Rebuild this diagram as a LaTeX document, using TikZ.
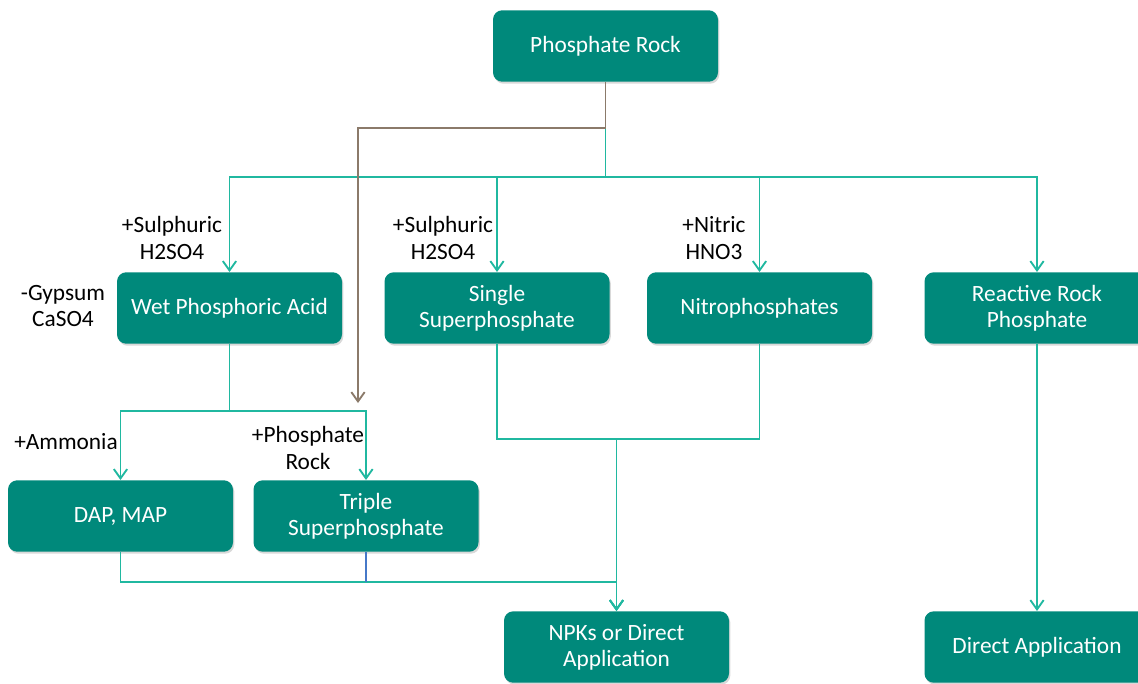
\documentclass[tikz,border=0pt]{standalone}
\usepackage{fontspec}
\setmainfont{Carlito}
\usetikzlibrary{arrows.meta,shadows}
\definecolor{boxteal}{RGB}{0,137,123}
\definecolor{lineteal}{RGB}{32,184,160}
\definecolor{linebrown}{RGB}{139,122,106}
\definecolor{lineblue}{RGB}{70,120,200}

\begin{document}
\begin{tikzpicture}[x=0.75pt,y=-0.75pt]
        \tikzstyle{line} = [-{Straight Barb[length=7pt,width=10pt]}, draw=lineteal, line width=1.4pt]
        \tikzstyle{box} = [rectangle, rounded corners=7pt, fill=boxteal, text=white, align=center,
          minimum width=168.75pt, minimum height=53.6pt, font=\fontsize{17.5}{19.5}\selectfont,
          drop shadow={shadow xshift=1pt, shadow yshift=-1.5pt, opacity=0.3}]
        \tikzstyle{lbl} = [align=center, font=\fontsize{17.5}{20}\selectfont]

        \useasboundingbox (0,0) rectangle (1138,683);

        \node(rock) [box] at (605.5,46) {Phosphate Rock};
        \node(wpa) [box] at (229.5,308) {Wet Phosphoric Acid};
        \node(ssp) [box] at (497,308) {Single\\Superphosphate};
        \node(nitro) [box] at (759.5,308) {Nitrophosphates};
        \node(rrp) [box] at (1037,308) {Reactive Rock\\Phosphate};
        \node(dap) [box] at (120.5,516) {DAP, MAP};
        \node(tsp) [box] at (366,516) {Triple\\Superphosphate};
        \node(npk) [box] at (616.5,647) {NPKs or Direct\\Application};
        \node(direct) [box] at (1037,647) {Direct Application};

        \node(sulph1) [lbl] at (172,238) {+Sulphuric\\H2SO4};
        \node(gypsum) [lbl] at (63,306) {-Gypsum\\CaSO4};
        \node(sulph2) [lbl] at (443,238) {+Sulphuric\\H2SO4};
        \node(nitric) [lbl] at (714,238) {+Nitric\\HNO3};
        \node(ammonia) [lbl] at (66,442) {+Ammonia};
        \node(addrock) [lbl] at (308,448) {+Phosphate\\Rock};

        \coordinate (split) at (605.5,128);
        \coordinate (bus) at (605.5,177);
        \coordinate (brownend) at (358,403);
        \coordinate (wpasplit) at (229.5,411);
        \coordinate (merge) at (616.5,439);
        \coordinate (lowbus) at (616.5,582);

        % rock feeds everything
        \draw[line] (split) -- (bus) -| (wpa.north);
        \draw[line] (split) -- (bus) -| (ssp.north);
        \draw[line] (split) -- (bus) -| (nitro.north);
        \draw[line] (split) -- (bus) -| (rrp.north);
        \draw[line, draw=linebrown] (rock.south) -- (split) -| (brownend);

        \draw[line] (wpa.south) -- (wpasplit) -| (dap.north);
        \draw[line] (wpa.south) -- (wpasplit) -| (tsp.north);

        \draw[line] (ssp.south) |- (merge) -- (npk.north);
        \draw[line] (nitro.south) |- (merge) -- (npk.north);
        \draw[line] (dap.south) |- (lowbus) -- (npk.north);
        \draw[line, -, draw=lineblue] (tsp.south) -- (tsp.south |- lowbus);

        \draw[line] (rrp) -- (direct);
    \end{tikzpicture}
\end{document}
